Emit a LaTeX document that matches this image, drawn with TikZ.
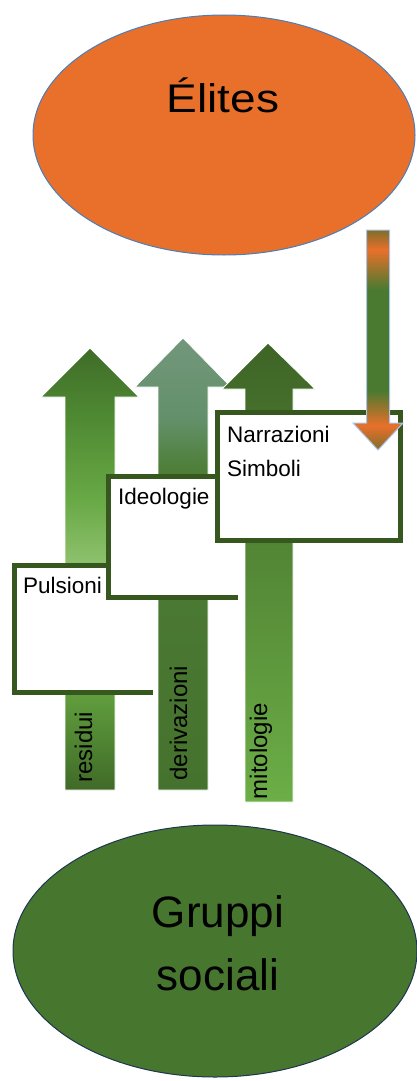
\documentclass[tikz,border=0pt]{standalone}
\usepackage{fontspec}
\setmainfont{Liberation Sans}
\usetikzlibrary{shapes.geometric}
\definecolor{orng}{HTML}{E8702A}
\definecolor{eliteborder}{HTML}{4A7EBB}
\definecolor{grpfill}{HTML}{47762F}
\definecolor{grpborder}{HTML}{1F3550}
\definecolor{boxline}{HTML}{36581F}
\definecolor{athreetop}{HTML}{3E6426}
\definecolor{athreebot}{HTML}{6CAE47}
\definecolor{dolive}{HTML}{7E6E2C}
\definecolor{dgreen}{HTML}{4A7A30}
\definecolor{dborder}{HTML}{A9C5EA}
\pgfdeclareverticalshading{aone}{100bp}{color(0bp)=(rgb,255:red,63;green,106;blue,39); color(25bp)=(rgb,255:red,63;green,106;blue,39); color(35bp)=(rgb,255:red,94;green,154;blue,60); color(51bp)=(rgb,255:red,140;green,192;blue,107); color(58bp)=(rgb,255:red,104;green,168;blue,69); color(67bp)=(rgb,255:red,79;green,138;blue,51); color(75bp)=(rgb,255:red,63;green,108;blue,40); color(100bp)=(rgb,255:red,63;green,108;blue,40)}
\pgfdeclareverticalshading{atwo}{100bp}{color(0bp)=(rgb,255:red,69;green,114;blue,45); color(25bp)=(rgb,255:red,69;green,114;blue,45); color(60.5bp)=(rgb,255:red,78;green,126;blue,56); color(66bp)=(rgb,255:red,99;green,144;blue,106); color(75bp)=(rgb,255:red,114;green,151;blue,124); color(100bp)=(rgb,255:red,114;green,151;blue,124)}
\pgfdeclareverticalshading{dnarrow}{100bp}{color(0bp)=(dolive); color(25bp)=(dolive); color(30.5bp)=(orng); color(38.5bp)=(dgreen); color(61.5bp)=(dgreen); color(70.5bp)=(orng); color(75bp)=(dolive); color(100bp)=(dolive)}
\tikzset{
  boxfill/.style={rectangle, fill=white, inner sep=0pt},
  boxedge/.style={draw=boxline, line width=5pt, line join=miter},
  lbl/.style={font=\fontsize{22.5}{26}\selectfont, inner sep=0pt},
  rotlbl/.style={font=\fontsize{24}{28}\selectfont, inner sep=0pt, rotate=90, anchor=base},
  bigtxt/.style={font=\fontsize{44}{50}\selectfont, inner sep=0pt, anchor=base},
  uparrow/.style={draw=white, line width=0.8pt}
}
\begin{document}
\begin{tikzpicture}[x=1pt,y=-1pt]
\useasboundingbox (0,0) rectangle (416,1081);
% ellipses
\node[ellipse, fill=orng, draw=eliteborder, line width=1pt, minimum width=382pt, minimum height=240pt, inner sep=0pt] (elites) at (224,135) {};
\node[bigtxt, font=\fontsize{40}{44}\selectfont, xscale=1.15] (elitestxt) at (223,112) {Élites};
\node[ellipse, fill=grpfill, draw=grpborder, line width=1pt, minimum width=404pt, minimum height=252pt, inner sep=0pt] (gruppi) at (215,951) {};
\node[bigtxt] (grtxtone) at (218,927) {Gruppi};
\node[bigtxt] (grtxttwo) at (218,990) {sociali};
% up arrows
\shade[uparrow, shading=aone]
  (65,790) -- (65,397) -- (41,397) -- (90,348) -- (139,397) -- (115,397) -- (115,790) -- cycle;
\shade[uparrow, shading=atwo]
  (158,790) -- (158,387) -- (135,387) -- (183,338) -- (231,387) -- (208,387) -- (208,790) -- cycle;
\shade[uparrow, top color=athreetop, bottom color=athreebot]
  (245,802) -- (245,389) -- (222,389) -- (268,343) -- (315,389) -- (293,389) -- (293,802) -- cycle;
\node[rotlbl] (residui) at (92,747) {residui};
\node[rotlbl] (deriv) at (187,723) {derivazioni};
\node[rotlbl] (mito) at (267,751) {mitologie};
% boxes
\node[boxfill, minimum width=138pt, minimum height=126pt] (pul) at (84,629) {};
\draw[boxedge] (pul.north east) -- (pul.north west) -- (pul.south west) -- (pul.south east);
\node[boxfill, minimum width=129pt, minimum height=120pt] (ideo) at (173.5,537) {};
\draw[boxedge] (ideo.north east) -- (ideo.north west) -- (ideo.south west) -- (ideo.south east);
\node[boxfill, minimum width=182pt, minimum height=127pt] (narr) at (309,476.5) {};
\draw[boxedge] (narr.north west) rectangle (narr.south east);
\node[lbl, anchor=base west] (pultxt) at (23,593) {Pulsioni};
\node[lbl, anchor=base west] (ideotxt) at (118,504) {Ideologie};
\node[lbl, anchor=base west] (narrtxt) at (227,442) {Narrazioni};
\node[lbl, anchor=base west] (simbtxt) at (227,476) {Simboli};
% down arrow
\shade[shading=dnarrow, draw=dborder, line width=1pt]
  (366.5,230) -- (389.5,230) -- (389.5,423) -- (403,423) -- (378,450) -- (353,423) -- (366.5,423) -- cycle;
\end{tikzpicture}
\end{document}
